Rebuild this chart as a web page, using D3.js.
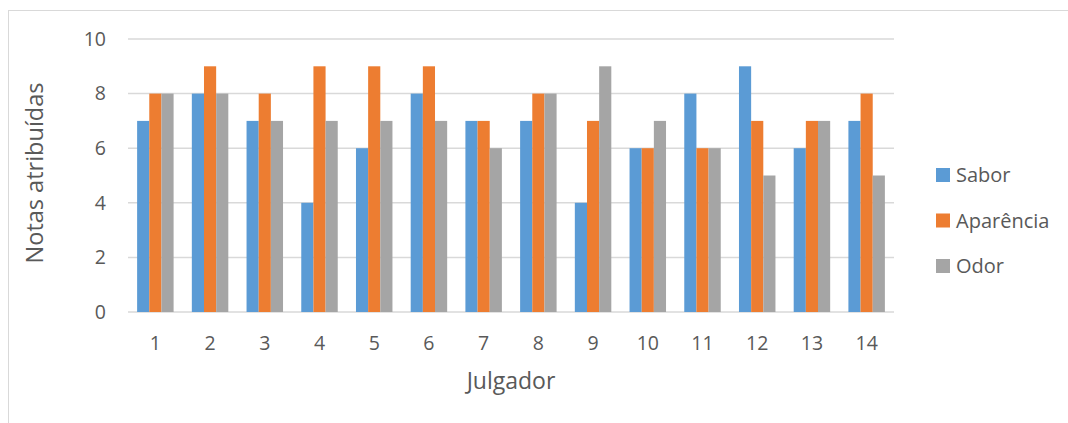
<!DOCTYPE html>
<html>
<head>
<meta charset="utf-8">
<script src="https://cdn.jsdelivr.net/npm/d3@7"></script>
<style>
  html, body { margin: 0; padding: 0; background: #fff; }
  svg { display: block; }
  text { font-family: "Open Sans", "Noto Sans", sans-serif; fill: #595959; }
</style>
</head>
<body>
<svg id="chart" width="1068" height="423"></svg>
<script>
// Judges and their scores per attribute
const judges = ["1","2","3","4","5","6","7","8","9","10","11","12","13","14"];
const sabor     = [7, 8, 7, 4, 6, 8, 7, 7, 4, 6, 8, 9, 6, 7];
const aparencia = [8, 9, 8, 9, 9, 9, 7, 8, 7, 6, 6, 7, 7, 8];
const odor      = [8, 8, 7, 7, 7, 7, 6, 8, 9, 7, 6, 5, 7, 5];
const seriesNames = ["Sabor", "Aparência", "Odor"];
const seriesColors = ["#5B9BD5", "#ED7D31", "#A5A5A5"];
const yTicks = [0, 2, 4, 6, 8, 10];

const series = [sabor, aparencia, odor];
const svg = d3.select("#chart");

// Outer chart frame
svg.append("rect")
  .attr("x", 8.5).attr("y", 10.5)
  .attr("width", 1100).attr("height", 500)
  .attr("fill", "none").attr("stroke", "#D9D9D9").attr("stroke-width", 1);

const plot = { left: 128, right: 894, top: 39, bottom: 312 };

// Category bands; each group holds 3 bars with a 1.5-bar gap
const x = d3.scaleBand().domain(judges).range([plot.left, plot.right]);
const band = x.bandwidth();
const barW = band / 4.5;
const y = d3.scaleLinear().domain([0, 10]).range([plot.bottom, plot.top]);

// Horizontal gridlines
svg.append("g")
  .selectAll("line").data(yTicks).join("line")
  .attr("x1", plot.left).attr("x2", plot.right)
  .attr("y1", d => y(d)).attr("y2", d => y(d))
  .attr("stroke", "#D9D9D9").attr("stroke-width", 1.5);

// Y tick labels
svg.append("g")
  .selectAll("text").data(yTicks).join("text")
  .attr("x", 106).attr("y", d => y(d))
  .attr("dy", "0.35em")
  .attr("text-anchor", "end")
  .attr("font-size", 19.5)
  .text(d => d);

// Bars
const groupX = d => x(d) + (band - 3 * barW) / 2;
series.forEach((vals, s) => {
  svg.append("g")
    .selectAll("rect").data(vals).join("rect")
    .attr("x", (d, i) => groupX(judges[i]) + s * barW)
    .attr("y", d => y(d))
    .attr("width", barW)
    .attr("height", d => y(0) - y(d))
    .attr("fill", seriesColors[s]);
});

// X tick labels
svg.append("g")
  .selectAll("text").data(judges).join("text")
  .attr("x", d => x(d) + band / 2)
  .attr("y", 343)
  .attr("dy", "0.35em")
  .attr("text-anchor", "middle")
  .attr("font-size", 19.5)
  .text(d => d);

// Axis titles
svg.append("text")
  .attr("x", (plot.left + plot.right) / 2).attr("y", 381)
  .attr("dy", "0.35em")
  .attr("text-anchor", "middle")
  .attr("font-size", 23)
  .text("Julgador");

svg.append("text")
  .attr("transform", `translate(35,173) rotate(-90)`)
  .attr("dy", "0.35em")
  .attr("text-anchor", "middle")
  .attr("font-size", 23.5)
  .text("Notas atribuídas");

// Legend
const legend = svg.append("g")
  .selectAll("g").data(seriesNames).join("g")
  .attr("transform", (d, i) => `translate(936,${175 + i * 45.5})`);
legend.append("rect")
  .attr("x", 0).attr("y", -7)
  .attr("width", 14).attr("height", 14)
  .attr("fill", (d, i) => seriesColors[i]);
legend.append("text")
  .attr("x", 20).attr("y", 0)
  .attr("dy", "0.35em")
  .attr("font-size", 20)
  .text(d => d);
</script>
</body>
</html>
